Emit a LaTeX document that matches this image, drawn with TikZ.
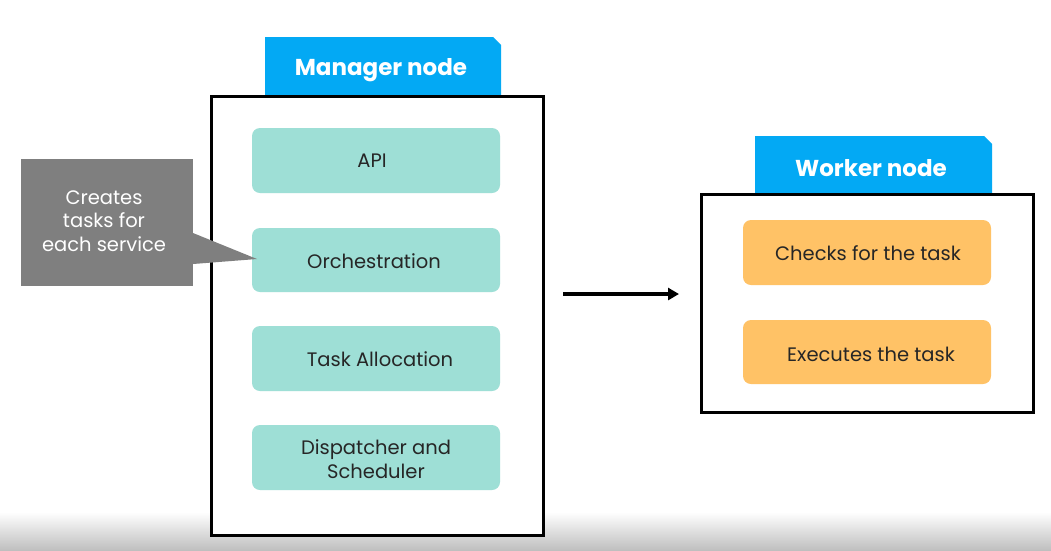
\documentclass[tikz,border=0pt]{standalone}
\usepackage{fontspec}
\setmainfont{Poppins}
\usetikzlibrary{arrows.meta}
\definecolor{tabblue}{HTML}{03A9F4}
\definecolor{tealbox}{HTML}{9EDFD6}
\definecolor{orangebox}{HTML}{FFC266}
\definecolor{callgray}{HTML}{7F7F7F}
\tikzset{
  tabshape/.style={fill=tabblue},
  frame/.style={draw=black, line width=3pt},
  tealitem/.style={fill=tealbox, rounded corners=8pt, draw=none},
  orangeitem/.style={fill=orangebox, rounded corners=8pt, draw=none},
  itemtext/.style={font=\fontsize{19.5}{23.5}\selectfont, text=black!85, align=center},
  tabtext/.style={font=\fontsize{23}{27}\selectfont\bfseries, text=white},
}
\begin{document}
\begin{tikzpicture}[x=1pt,y=-1pt]
\useasboundingbox (0,0) rectangle (1051,550);
\fill[white] (0,0) rectangle (1051,550);
\shade[top color=white, bottom color=black!25] (0,512) rectangle (1051,550);
% Manager
\fill[tabshape] (265,37) -- (493,37) -- (501,45) -- (501,96) -- (265,96) -- cycle;
\node[tabtext] (mtitle) at (381,70) {Manager node};
\draw[frame, fill=white] (211,96) rectangle (543,535);
\fill[tealitem] (252,128) rectangle (500,193);
\node[itemtext] (api) at (372,161) {API};
\fill[tealitem] (252,228) rectangle (500,292);
\node[itemtext] (orch) at (374,261) {Orchestration};
\fill[tealitem] (252,326) rectangle (500,391);
\node[itemtext] (alloc) at (380,359) {Task Allocation};
\fill[tealitem] (252,425) rectangle (500,490);
\node[itemtext] (disp) at (376,459) {Dispatcher and\\Scheduler};
% callout
\fill[callgray] (21,159) rectangle (193,286);
\fill[callgray] (193,233) -- (257,259) -- (193,264) -- cycle;
\node[itemtext, text=white] (call) at (104,221) {Creates\\tasks for\\each service};
% Worker
\fill[tabshape] (755,136) -- (984,136) -- (992,144) -- (992,194) -- (755,194) -- cycle;
\node[tabtext] (wtitle) at (871,168) {Worker node};
\draw[frame, fill=white] (701,194) rectangle (1033,412);
\fill[orangeitem] (743,220) rectangle (991,285);
\node[itemtext] (check) at (868,253) {Checks for the task};
\fill[orangeitem] (743,320) rectangle (991,384);
\node[itemtext] (exec) at (871,354) {Executes the task};
\coordinate (astart) at (563,294);
\coordinate (aend) at (679,294);
\draw[line width=3.5pt, -{Triangle[length=11pt,width=12pt]}] (astart) -- (aend);
\end{tikzpicture}
\end{document}
